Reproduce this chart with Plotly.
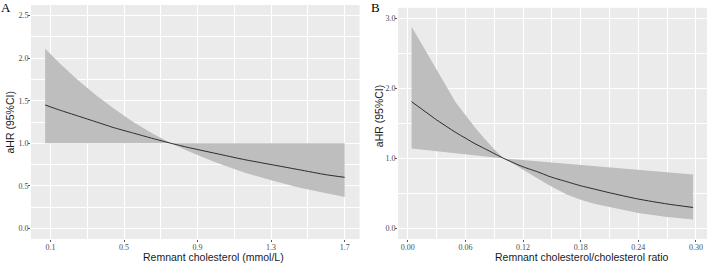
import plotly.graph_objects as go

# Panel A: Remnant cholesterol (mmol/L)
x_A = [0.071, 0.15, 0.25, 0.35, 0.45, 0.55, 0.65, 0.755, 0.85, 1.0, 1.15, 1.3, 1.45, 1.6, 1.7]
hr_A = [1.45, 1.39, 1.32, 1.25, 1.18, 1.12, 1.06, 1.00, 0.95, 0.88, 0.81, 0.75, 0.69, 0.63, 0.60]
upper_A = [2.11, 1.94, 1.74, 1.56, 1.40, 1.25, 1.12, 1.00, 1.0, 1.0, 1.0, 1.0, 1.0, 1.0, 1.0]
lower_A = [1.0, 1.0, 1.0, 1.0, 1.0, 1.0, 1.0, 1.00, 0.905, 0.773, 0.66, 0.564, 0.481, 0.411, 0.37]

# Panel B: Remnant cholesterol/cholesterol ratio
x_B = [0.004, 0.02, 0.03, 0.041, 0.05, 0.06, 0.07, 0.08, 0.09, 0.10, 0.12, 0.135, 0.148, 0.165, 0.18, 0.195, 0.21, 0.24, 0.27, 0.297]
hr_B = [1.81, 1.65, 1.55, 1.45, 1.37, 1.29, 1.21, 1.14, 1.07, 1.00, 0.88, 0.81, 0.74, 0.67, 0.61, 0.56, 0.51, 0.42, 0.35, 0.30]
upper_B = [2.88, 2.50, 2.26, 2.00, 1.80, 1.62, 1.44, 1.28, 1.13, 1.00, 0.977, 0.96, 0.944, 0.925, 0.906, 0.888, 0.871, 0.836, 0.80, 0.77]
lower_B = [1.143, 1.12, 1.104, 1.09, 1.075, 1.06, 1.045, 1.03, 1.015, 1.00, 0.84, 0.72, 0.61, 0.49, 0.41, 0.35, 0.30, 0.22, 0.165, 0.13]

ticks_xA = [0.1, 0.5, 0.9, 1.3, 1.7]
ticks_yA = [0.0, 0.5, 1.0, 1.5, 2.0, 2.5]
ticks_xB = [0.00, 0.06, 0.12, 0.18, 0.24, 0.30]
ticks_yB = [0.0, 1.0, 2.0, 3.0]

BG = "#EBEBEB"
RIB = "#BEBEBE"
LINE = "#2B2B2B"

fig = go.Figure()

def add_panel(xs, hr, up, lo, xa, ya):
    fig.add_trace(go.Scatter(
        x=list(xs) + list(xs)[::-1], y=list(up) + list(lo)[::-1],
        fill="toself", fillcolor=RIB, line=dict(width=0), mode="lines",
        hoverinfo="skip", showlegend=False, xaxis=xa, yaxis=ya))
    fig.add_trace(go.Scatter(
        x=xs, y=hr, mode="lines", line=dict(color=LINE, width=1, shape="spline", smoothing=0.6),
        showlegend=False, xaxis=xa, yaxis=ya))

add_panel(x_A, hr_A, upper_A, lower_A, "x", "y")
add_panel(x_B, hr_B, upper_B, lower_B, "x2", "y2")

tickfont = dict(family="Liberation Serif", size=8, color="#4D4D4D")
common = dict(showgrid=True, gridcolor="white", gridwidth=1, zeroline=False,
              showline=False, ticks="outside", ticklen=2, tickwidth=0.8, tickcolor="#555555",
              tickfont=tickfont, ticklabelstandoff=-2)

fig.update_layout(
    width=709, height=263,
    margin=dict(l=31, r=2, t=5, b=24),
    paper_bgcolor="white", plot_bgcolor=BG,
    xaxis=dict(domain=[0, 0.486], range=[-0.006, 1.781], tickvals=ticks_xA,
               ticktext=[f"{v:.1f}" for v in ticks_xA],
               minor=dict(showgrid=True, gridcolor="white", gridwidth=0.5, dtick=0.2, tick0=0.1),
               anchor="y", **common),
    yaxis=dict(domain=[0, 1], range=[-0.125, 2.625], tickvals=ticks_yA,
               ticktext=[f"{v:.1f}" for v in ticks_yA],
               minor=dict(showgrid=True, gridcolor="white", gridwidth=0.5, dtick=0.25, tick0=0),
               anchor="x", **common),
    xaxis2=dict(domain=[0.543, 1], range=[-0.0101, 0.3115], tickvals=ticks_xB,
                ticktext=[f"{v:.2f}" for v in ticks_xB],
                minor=dict(showgrid=True, gridcolor="white", gridwidth=0.5, dtick=0.03, tick0=0),
                anchor="y2", **common),
    yaxis2=dict(domain=[0, 0.988], range=[-0.15, 3.15], tickvals=ticks_yB,
                ticktext=[f"{v:.1f}" for v in ticks_yB],
                minor=dict(showgrid=True, gridcolor="white", gridwidth=0.5, dtick=0.5, tick0=0),
                anchor="x2", **common),
)

title_font = dict(family="Liberation Sans", size=10.5, color="#1A1A1A")
letter_font = dict(family="Liberation Serif", size=13, color="black")

def px_x(p):
    return (p - 31) / 676.0

def px_y(p):
    return (239 - p) / 234.0

annots = [
    dict(text="Remnant cholesterol (mmol/L)", x=px_x(213.7), y=px_y(257.3), font=title_font, textangle=0),
    dict(text="Remnant cholesterol/cholesterol ratio", x=px_x(581.7), y=px_y(257.3), font=title_font, textangle=0),
    dict(text="aHR (95%CI)", x=px_x(9.5), y=px_y(122), font=title_font, textangle=-90),
    dict(text="aHR (95%CI)", x=px_x(378.5), y=px_y(116.7), font=title_font, textangle=-90),
    dict(text="A", x=px_x(5.5), y=px_y(8), font=letter_font, textangle=0),
    dict(text="B", x=px_x(375.8), y=px_y(7.8), font=letter_font, textangle=0),
]
for a in annots:
    fig.add_annotation(xref="paper", yref="paper", showarrow=False,
                       xanchor="center", yanchor="middle", **a)

fig.write_html("out.html", config={"displayModeBar": False},
               post_script="document.body.style.margin='0px';document.body.style.overflow='hidden';")
